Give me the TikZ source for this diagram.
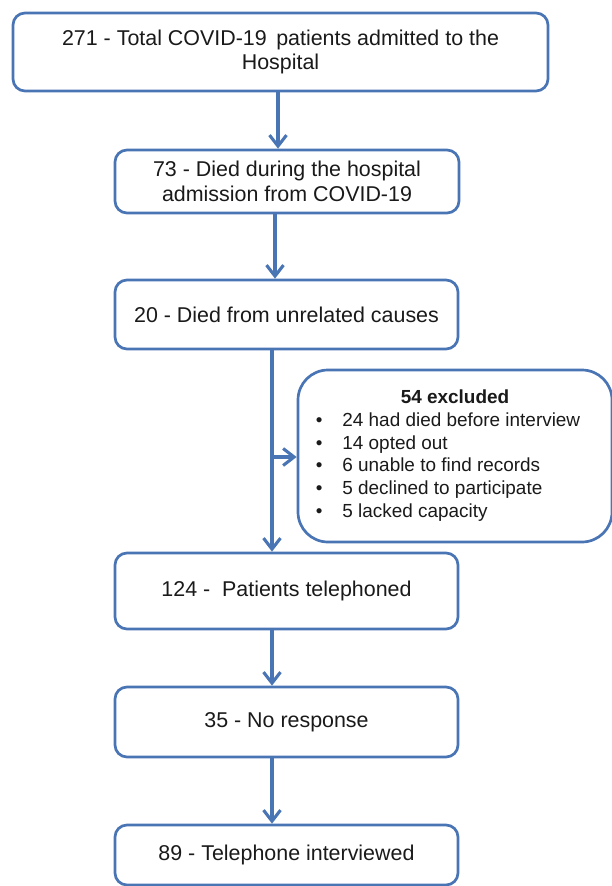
\documentclass[tikz,border=0pt]{standalone}
\usepackage{fontspec}
\setmainfont{Liberation Sans}
\usetikzlibrary{arrows.meta}
\definecolor{boxblue}{HTML}{4A75B5}
\definecolor{txt}{HTML}{1A1A1A}
\tikzset{
  flowbox/.style={draw=boxblue, line width=2.7bp, rounded corners=12bp, fill=white,
    text=txt, align=center, inner sep=0pt,
    font=\fontsize{21.5}{25}\selectfont},
  exclbox/.style={draw=boxblue, line width=2.7bp, rounded corners=30bp, fill=white,
    text=txt, inner sep=0pt, font=\fontsize{19}{22.8}\selectfont},
  arr/.style={draw=boxblue, line width=3.1bp, -{Straight Barb[length=11bp,width=17bp,line width=3.1bp]}},
}
\begin{document}
\begin{tikzpicture}[x=1bp,y=-1bp]
\useasboundingbox (0,0) rectangle (612,886);
\node[flowbox, minimum width=535bp, minimum height=78bp] (total) at (280.5,52)
  {271 - Total COVID-19 \,patients admitted to the\\Hospital};
\node[flowbox, minimum width=344bp, minimum height=63bp] (died) at (287,181.5)
  {73 - Died during the hospital\\admission from COVID-19};
\node[flowbox, minimum width=343bp, minimum height=69bp] (unrel) at (286.5,314.5)
  {20 - Died from unrelated causes};
\node[exclbox, minimum width=314bp, minimum height=172bp] (excl) at (455,456)
  {\begin{tabular}{@{}l@{\hspace{20bp}}l@{\hspace{14bp}}}
   \multicolumn{2}{c}{\textbf{54 excluded}}\\
   • & 24 had died before interview\\
   • & 14 opted out\\
   • & 6 unable to find records\\
   • & 5 declined to participate\\
   • & 5 lacked capacity
   \end{tabular}};
\node[flowbox, minimum width=343bp, minimum height=76bp] (tel) at (286.5,591)
  {124 - \ Patients telephoned};
\node[flowbox, minimum width=343bp, minimum height=70bp] (nores) at (286.5,722)
  {35 - No response};
\node[flowbox, minimum width=343bp, minimum height=60bp] (inter) at (286.5,855)
  {89 - Telephone interviewed};
\coordinate (a1) at (278,0);
\coordinate (a2) at (275,0);
\coordinate (a3) at (272,0);
\coordinate (br) at (272,457);
\draw[arr] (a1 |- total.south) -- (a1 |- died.north);
\draw[arr] (a2 |- died.south) -- (a2 |- unrel.north);
\draw[arr] (a3 |- unrel.south) -- (a3 |- tel.north);
\draw[arr] (br) -- (excl.west |- br);
\draw[arr] (a3 |- tel.south) -- (a3 |- nores.north);
\draw[arr] (a3 |- nores.south) -- (a3 |- inter.north);
\end{tikzpicture}
\end{document}
